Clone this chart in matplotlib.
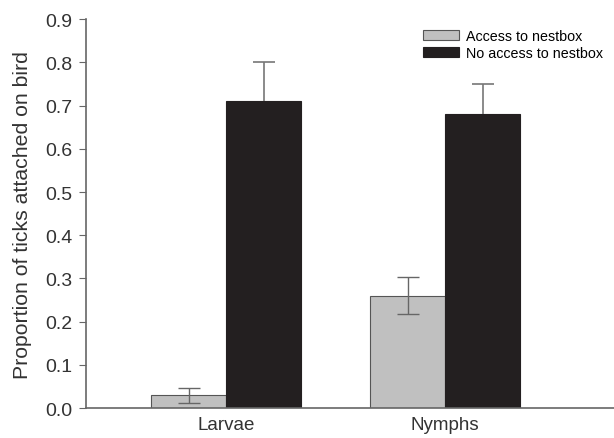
import matplotlib.pyplot as plt
import numpy as np

plt.rcParams['font.family'] = ['Liberation Sans', 'DejaVu Sans']

categories = ["Larvae", "Nymphs"]
access = [0.03, 0.26]
access_err = [0.017, 0.043]
no_access = [0.71, 0.68]
no_access_err = [0.09, 0.07]

fig = plt.figure(figsize=(6.14, 4.39), dpi=100)
ax = fig.add_axes([0.14, 0.068, 0.86, 0.886])

x = np.arange(len(categories))
w = 0.342
ax.bar(x - w / 2, access, w, color="#c0c0c0", edgecolor="#555555", linewidth=0.8,
       label="Access to nestbox")
ax.bar(x + w / 2, no_access, w, color="#231f20", edgecolor="#231f20", linewidth=0.8,
       label="No access to nestbox")
ax.errorbar(x - w / 2, access, yerr=access_err, fmt="none", ecolor="#666666",
            elinewidth=1, capsize=8, capthick=1)
eb = ax.errorbar(x + w / 2, no_access, yerr=[[0, 0], no_access_err], fmt="none",
                 ecolor="#777777", elinewidth=1.2, capsize=8, capthick=1.2)
eb[1][0].set_visible(False)

ax.set_xlim(-0.64, 1.77)
ax.set_ylim(0, 0.9)
ax.set_yticks(np.arange(0, 0.91, 0.1))
ax.set_yticklabels([f"{v:.1f}" for v in np.arange(0, 0.91, 0.1)])
ax.set_xticks(x)
ax.set_xticklabels(categories)
ax.tick_params(axis="x", length=0, labelsize=13.5, colors="#333333", pad=6)
ax.tick_params(axis="y", length=5, labelsize=14, colors="#666666", labelcolor="#333333", pad=5)
ax.set_ylabel("Proportion of ticks attached on bird", fontsize=15.3, color="#333333", labelpad=9)

for s in ["top", "right"]:
    ax.spines[s].set_visible(False)
for s in ["left", "bottom"]:
    ax.spines[s].set_color("#666666")
    ax.spines[s].set_linewidth(1.2)

ax.legend(loc="upper left", bbox_to_anchor=(0.627, 0.99), frameon=False, fontsize=10.3,
          handlelength=2.5, handleheight=0.75, handletextpad=0.55, labelspacing=0.22,
          borderaxespad=0)

fig.savefig("out.png", dpi=100)
